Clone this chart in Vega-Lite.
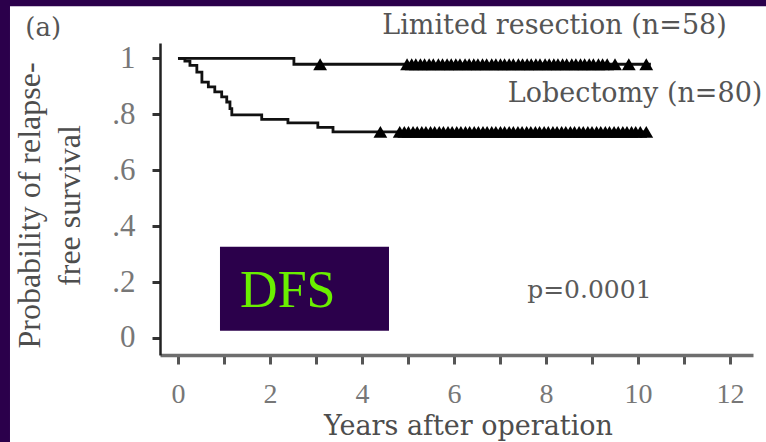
{
  "$schema": "https://vega.github.io/schema/vega-lite/v6.json",
  "width": 593,
  "height": 312,
  "autosize": {"type": "none"},
  "padding": {"left": 160, "top": 43, "right": 13, "bottom": 87},
  "background": "white",
  "config": {"view": {"stroke": null}, "font": "Liberation Serif"},
  "datasets": {
    "curves": [
      {"group": "Limited resection", "years": 0, "survival": 1.0},
      {"group": "Limited resection", "years": 2.52, "survival": 0.979},
      {"group": "Limited resection", "years": 10.28, "survival": 0.979},
      {"group": "Lobectomy", "years": 0, "survival": 1.0},
      {"group": "Lobectomy", "years": 0.15, "survival": 0.99},
      {"group": "Lobectomy", "years": 0.26, "survival": 0.975},
      {"group": "Lobectomy", "years": 0.41, "survival": 0.951},
      {"group": "Lobectomy", "years": 0.52, "survival": 0.915},
      {"group": "Lobectomy", "years": 0.66, "survival": 0.898},
      {"group": "Lobectomy", "years": 0.8, "survival": 0.88},
      {"group": "Lobectomy", "years": 0.95, "survival": 0.862},
      {"group": "Lobectomy", "years": 1.06, "survival": 0.844},
      {"group": "Lobectomy", "years": 1.13, "survival": 0.82},
      {"group": "Lobectomy", "years": 1.17, "survival": 0.798},
      {"group": "Lobectomy", "years": 1.82, "survival": 0.782},
      {"group": "Lobectomy", "years": 2.39, "survival": 0.769},
      {"group": "Lobectomy", "years": 3.04, "survival": 0.753},
      {"group": "Lobectomy", "years": 3.37, "survival": 0.737},
      {"group": "Lobectomy", "years": 10.22, "survival": 0.737}
    ],
    "censored": [
      {"group": "Limited resection", "years": 3.09, "survival": 0.979},
      {"group": "Limited resection", "years": 4.98, "survival": 0.979},
      {"group": "Limited resection", "years": 5.08, "survival": 0.979},
      {"group": "Limited resection", "years": 5.17, "survival": 0.979},
      {"group": "Limited resection", "years": 5.27, "survival": 0.979},
      {"group": "Limited resection", "years": 5.36, "survival": 0.979},
      {"group": "Limited resection", "years": 5.46, "survival": 0.979},
      {"group": "Limited resection", "years": 5.55, "survival": 0.979},
      {"group": "Limited resection", "years": 5.66, "survival": 0.979},
      {"group": "Limited resection", "years": 5.75, "survival": 0.979},
      {"group": "Limited resection", "years": 5.85, "survival": 0.979},
      {"group": "Limited resection", "years": 5.94, "survival": 0.979},
      {"group": "Limited resection", "years": 6.04, "survival": 0.979},
      {"group": "Limited resection", "years": 6.13, "survival": 0.979},
      {"group": "Limited resection", "years": 6.24, "survival": 0.979},
      {"group": "Limited resection", "years": 6.33, "survival": 0.979},
      {"group": "Limited resection", "years": 6.43, "survival": 0.979},
      {"group": "Limited resection", "years": 6.52, "survival": 0.979},
      {"group": "Limited resection", "years": 6.62, "survival": 0.979},
      {"group": "Limited resection", "years": 6.71, "survival": 0.979},
      {"group": "Limited resection", "years": 6.82, "survival": 0.979},
      {"group": "Limited resection", "years": 6.91, "survival": 0.979},
      {"group": "Limited resection", "years": 7.01, "survival": 0.979},
      {"group": "Limited resection", "years": 7.1, "survival": 0.979},
      {"group": "Limited resection", "years": 7.2, "survival": 0.979},
      {"group": "Limited resection", "years": 7.29, "survival": 0.979},
      {"group": "Limited resection", "years": 7.4, "survival": 0.979},
      {"group": "Limited resection", "years": 7.49, "survival": 0.979},
      {"group": "Limited resection", "years": 7.59, "survival": 0.979},
      {"group": "Limited resection", "years": 7.68, "survival": 0.979},
      {"group": "Limited resection", "years": 7.78, "survival": 0.979},
      {"group": "Limited resection", "years": 7.87, "survival": 0.979},
      {"group": "Limited resection", "years": 7.98, "survival": 0.979},
      {"group": "Limited resection", "years": 8.07, "survival": 0.979},
      {"group": "Limited resection", "years": 8.17, "survival": 0.979},
      {"group": "Limited resection", "years": 8.26, "survival": 0.979},
      {"group": "Limited resection", "years": 8.36, "survival": 0.979},
      {"group": "Limited resection", "years": 8.45, "survival": 0.979},
      {"group": "Limited resection", "years": 8.56, "survival": 0.979},
      {"group": "Limited resection", "years": 8.65, "survival": 0.979},
      {"group": "Limited resection", "years": 8.75, "survival": 0.979},
      {"group": "Limited resection", "years": 8.84, "survival": 0.979},
      {"group": "Limited resection", "years": 8.94, "survival": 0.979},
      {"group": "Limited resection", "years": 9.03, "survival": 0.979},
      {"group": "Limited resection", "years": 9.14, "survival": 0.979},
      {"group": "Limited resection", "years": 9.23, "survival": 0.979},
      {"group": "Limited resection", "years": 9.33, "survival": 0.979},
      {"group": "Limited resection", "years": 9.5, "survival": 0.979},
      {"group": "Limited resection", "years": 9.8, "survival": 0.979},
      {"group": "Limited resection", "years": 10.18, "survival": 0.979},
      {"group": "Lobectomy", "years": 4.4, "survival": 0.737},
      {"group": "Lobectomy", "years": 4.82, "survival": 0.737},
      {"group": "Lobectomy", "years": 4.92, "survival": 0.737},
      {"group": "Lobectomy", "years": 5.01, "survival": 0.737},
      {"group": "Lobectomy", "years": 5.11, "survival": 0.737},
      {"group": "Lobectomy", "years": 5.2, "survival": 0.737},
      {"group": "Lobectomy", "years": 5.3, "survival": 0.737},
      {"group": "Lobectomy", "years": 5.39, "survival": 0.737},
      {"group": "Lobectomy", "years": 5.49, "survival": 0.737},
      {"group": "Lobectomy", "years": 5.58, "survival": 0.737},
      {"group": "Lobectomy", "years": 5.68, "survival": 0.737},
      {"group": "Lobectomy", "years": 5.77, "survival": 0.737},
      {"group": "Lobectomy", "years": 5.87, "survival": 0.737},
      {"group": "Lobectomy", "years": 5.96, "survival": 0.737},
      {"group": "Lobectomy", "years": 6.06, "survival": 0.737},
      {"group": "Lobectomy", "years": 6.15, "survival": 0.737},
      {"group": "Lobectomy", "years": 6.25, "survival": 0.737},
      {"group": "Lobectomy", "years": 6.34, "survival": 0.737},
      {"group": "Lobectomy", "years": 6.44, "survival": 0.737},
      {"group": "Lobectomy", "years": 6.53, "survival": 0.737},
      {"group": "Lobectomy", "years": 6.63, "survival": 0.737},
      {"group": "Lobectomy", "years": 6.72, "survival": 0.737},
      {"group": "Lobectomy", "years": 6.82, "survival": 0.737},
      {"group": "Lobectomy", "years": 6.91, "survival": 0.737},
      {"group": "Lobectomy", "years": 7.01, "survival": 0.737},
      {"group": "Lobectomy", "years": 7.1, "survival": 0.737},
      {"group": "Lobectomy", "years": 7.2, "survival": 0.737},
      {"group": "Lobectomy", "years": 7.29, "survival": 0.737},
      {"group": "Lobectomy", "years": 7.39, "survival": 0.737},
      {"group": "Lobectomy", "years": 7.48, "survival": 0.737},
      {"group": "Lobectomy", "years": 7.58, "survival": 0.737},
      {"group": "Lobectomy", "years": 7.67, "survival": 0.737},
      {"group": "Lobectomy", "years": 7.77, "survival": 0.737},
      {"group": "Lobectomy", "years": 7.86, "survival": 0.737},
      {"group": "Lobectomy", "years": 7.96, "survival": 0.737},
      {"group": "Lobectomy", "years": 8.05, "survival": 0.737},
      {"group": "Lobectomy", "years": 8.15, "survival": 0.737},
      {"group": "Lobectomy", "years": 8.24, "survival": 0.737},
      {"group": "Lobectomy", "years": 8.34, "survival": 0.737},
      {"group": "Lobectomy", "years": 8.43, "survival": 0.737},
      {"group": "Lobectomy", "years": 8.53, "survival": 0.737},
      {"group": "Lobectomy", "years": 8.62, "survival": 0.737},
      {"group": "Lobectomy", "years": 8.72, "survival": 0.737},
      {"group": "Lobectomy", "years": 8.81, "survival": 0.737},
      {"group": "Lobectomy", "years": 8.91, "survival": 0.737},
      {"group": "Lobectomy", "years": 9.0, "survival": 0.737},
      {"group": "Lobectomy", "years": 9.1, "survival": 0.737},
      {"group": "Lobectomy", "years": 9.19, "survival": 0.737},
      {"group": "Lobectomy", "years": 9.29, "survival": 0.737},
      {"group": "Lobectomy", "years": 9.38, "survival": 0.737},
      {"group": "Lobectomy", "years": 9.48, "survival": 0.737},
      {"group": "Lobectomy", "years": 9.57, "survival": 0.737},
      {"group": "Lobectomy", "years": 9.67, "survival": 0.737},
      {"group": "Lobectomy", "years": 9.76, "survival": 0.737},
      {"group": "Lobectomy", "years": 9.86, "survival": 0.737},
      {"group": "Lobectomy", "years": 9.95, "survival": 0.737},
      {"group": "Lobectomy", "years": 10.05, "survival": 0.737},
      {"group": "Lobectomy", "years": 10.18, "survival": 0.737}
    ]
  },
  "layer": [
    {
      "data": {"values": [{"label": "frame"}]},
      "mark": {"type": "rect", "color": "#2b004b"},
      "encoding": {
        "x": {"datum": -4.5, "type": "quantitative", "scale": {"domain": [-0.391, 12.5], "nice": false, "zero": false}},
        "x2": {"datum": 13.5},
        "y": {"datum": 1.4, "type": "quantitative", "scale": {"domain": [-0.061, 1.055], "nice": false, "zero": false}},
        "y2": {"datum": 1.1865}
      }
    },
    {
      "data": {"values": [{"label": "frame"}]},
      "mark": {"type": "rect", "color": "#2b004b"},
      "encoding": {
        "x": {"datum": -4.5, "type": "quantitative", "scale": {"domain": [-0.391, 12.5], "nice": false, "zero": false}},
        "x2": {"datum": -3.652},
        "y": {"datum": 1.4, "type": "quantitative", "scale": {"domain": [-0.061, 1.055], "nice": false, "zero": false}},
        "y2": {"datum": -0.5}
      }
    },
    {
      "data": {"name": "curves"},
      "mark": {"type": "line", "interpolate": "step-after", "color": "#111111", "strokeWidth": 2.8},
      "encoding": {
        "x": {
          "field": "years", "type": "quantitative",
          "scale": {"domain": [-0.391, 12.5], "nice": false, "zero": false},
          "axis": {
            "title": "Years after operation",
            "values": [0, 0.5, 1, 1.5, 2, 2.5, 3, 3.5, 4, 4.5, 5, 5.5, 6, 6.5, 7, 7.5, 8, 8.5, 9, 9.5, 10, 10.5, 11, 11.5, 12],
            "labelExpr": "datum.value % 2 == 0 ? '' + datum.value : ''",
            "grid": false, "zindex": 1,
            "domainColor": "#6e6e6e", "domainWidth": 3.5,
            "tickColor": "#555555", "tickWidth": 3, "tickSize": 9,
            "labelFont": "Liberation Serif", "labelFontSize": 28, "labelColor": "#777777",
            "labelPadding": 16, "labelDx": 3, "labelFlush": false, "labelOverlap": false,
            "titleFont": "DejaVu Serif", "titleFontSize": 27, "titleFontWeight": "normal", "titleColor": "#4d4d4d",
            "titleX": 308, "titleY": 79, "titleBaseline": "alphabetic", "titleAlign": "center", "titleAnchor": null
          }
        },
        "y": {
          "field": "survival", "type": "quantitative",
          "scale": {"domain": [-0.061, 1.055], "nice": false, "zero": false},
          "axis": {
            "title": ["Probability of relapse-", "free survival"],
            "values": [0, 0.1, 0.2, 0.3, 0.4, 0.5, 0.6, 0.7, 0.8, 0.9, 1],
            "labelExpr": "datum.value == 0 ? '0' : datum.value == 1 ? '1' : (round(datum.value * 10) % 2 == 0 ? '.' + round(datum.value * 10) : '')",
            "grid": false, "zindex": 1,
            "domainColor": "#222222", "domainWidth": 2.5,
            "tickColor": "#333333", "tickWidth": 3, "tickSize": 8,
            "labelFont": "Liberation Serif", "labelFontSize": 31, "labelColor": "#777777",
            "labelPadding": 17, "labelDy": 8, "labelFlush": false, "labelOverlap": false,
            "titleFont": "Liberation Serif", "titleFontSize": 32, "titleFontWeight": "normal", "titleColor": "#4d4d4d",
            "titleAngle": -90, "titleX": -146, "titleY": 162, "titleBaseline": "top", "titleAlign": "center",
            "titleLineHeight": 40, "titleAnchor": null
          }
        },
        "detail": {"field": "group", "type": "nominal"}
      }
    },
    {
      "data": {"name": "censored"},
      "mark": {"type": "point", "shape": "triangle-up", "filled": true, "color": "#000000", "opacity": 1, "size": 190},
      "encoding": {
        "x": {"field": "years", "type": "quantitative", "scale": {"domain": [-0.391, 12.5], "nice": false, "zero": false}},
        "y": {"field": "survival", "type": "quantitative", "scale": {"domain": [-0.061, 1.055], "nice": false, "zero": false}},
        "detail": {"field": "group", "type": "nominal"}
      }
    },
    {
      "data": {"values": [{"label": "box"}]},
      "mark": {"type": "rect", "color": "#2b004b"},
      "encoding": {
        "x": {"datum": 0.913, "type": "quantitative", "scale": {"domain": [-0.391, 12.5], "nice": false, "zero": false}},
        "x2": {"datum": 4.587},
        "y": {"datum": 0.326, "type": "quantitative", "scale": {"domain": [-0.061, 1.055], "nice": false, "zero": false}},
        "y2": {"datum": 0.026}
      }
    },
    {
      "data": {"values": [{"label": "DFS", "years": 1.35, "survival": 0.168}]},
      "mark": {"type": "text", "align": "left", "baseline": "middle", "font": "Liberation Serif", "fontSize": 52, "color": "#6aef00"},
      "encoding": {
        "x": {"field": "years", "type": "quantitative", "scale": {"domain": [-0.391, 12.5], "nice": false, "zero": false}},
        "y": {"field": "survival", "type": "quantitative", "scale": {"domain": [-0.061, 1.055], "nice": false, "zero": false}},
        "text": {"field": "label"}
      }
    },
    {
      "data": {"values": [{"label": "p=0.0001", "years": 7.59, "survival": 0.171}]},
      "mark": {"type": "text", "align": "left", "baseline": "middle", "font": "DejaVu Serif", "fontSize": 25, "color": "#5a5a5a"},
      "encoding": {
        "x": {"field": "years", "type": "quantitative", "scale": {"domain": [-0.391, 12.5], "nice": false, "zero": false}},
        "y": {"field": "survival", "type": "quantitative", "scale": {"domain": [-0.061, 1.055], "nice": false, "zero": false}},
        "text": {"field": "label"}
      }
    },
    {
      "data": {"values": [{"label": "Lobectomy (n=80)", "years": 7.17, "survival": 0.872}]},
      "mark": {"type": "text", "align": "left", "baseline": "middle", "font": "DejaVu Serif", "fontSize": 27, "color": "#555555"},
      "encoding": {
        "x": {"field": "years", "type": "quantitative", "scale": {"domain": [-0.391, 12.5], "nice": false, "zero": false}},
        "y": {"field": "survival", "type": "quantitative", "scale": {"domain": [-0.061, 1.055], "nice": false, "zero": false}},
        "text": {"field": "label"}
      }
    },
    {
      "data": {"values": [{"label": "Limited resection (n=58)", "years": 11.93, "survival": 1.115}]},
      "mark": {"type": "text", "align": "right", "baseline": "middle", "font": "DejaVu Serif", "fontSize": 27, "color": "#555555"},
      "encoding": {
        "x": {"field": "years", "type": "quantitative", "scale": {"domain": [-0.391, 12.5], "nice": false, "zero": false}},
        "y": {"field": "survival", "type": "quantitative", "scale": {"domain": [-0.061, 1.055], "nice": false, "zero": false}},
        "text": {"field": "label"}
      }
    },
    {
      "data": {"values": [{"label": "(a)", "years": -2.93, "survival": 1.109}]},
      "mark": {"type": "text", "align": "center", "baseline": "middle", "font": "DejaVu Serif", "fontSize": 26, "color": "#555555"},
      "encoding": {
        "x": {"field": "years", "type": "quantitative", "scale": {"domain": [-0.391, 12.5], "nice": false, "zero": false}},
        "y": {"field": "survival", "type": "quantitative", "scale": {"domain": [-0.061, 1.055], "nice": false, "zero": false}},
        "text": {"field": "label"}
      }
    }
  ]
}
